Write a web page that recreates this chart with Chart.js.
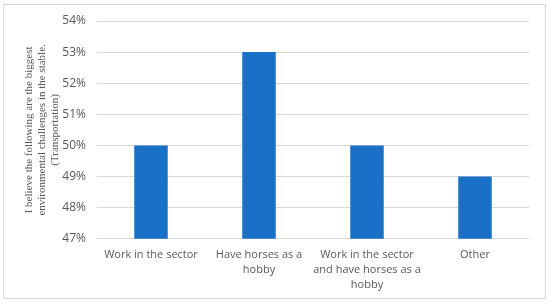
<!DOCTYPE html>
<html lang="en">
<head>
  <meta charset="UTF-8">
  <title>Biggest environmental challenges in the stable</title>
  <script src="https://cdn.jsdelivr.net/npm/chart.js"></script>
  <style>
    html, body { margin: 0; padding: 0; background: #fff; }
    #wrap { width: 550px; height: 306px; }
  </style>
</head>
<body>
  <div id="wrap"><canvas id="myChart" width="550" height="306"></canvas></div>

  <script>
    // categories (split into lines the way they wrap under the bars)
    var groups = [
      ['Work in the sector'],
      ['Have horses as a', 'hobby'],
      ['Work in the sector', 'and have horses as a', 'hobby'],
      ['Other']
    ];
    var shares = [0.50, 0.53, 0.50, 0.49];
    var axisTitle = [
      'I believe the following are the biggest',
      'environmental challenges in the stable.',
      '(Transportation)'
    ];
    var yMin = 0.47, yMax = 0.54, yStep = 0.01;

    var textGrey = '#595959';

    // light grey frame round the whole chart
    var frame = {
      id: 'frame',
      beforeDraw: function(chart) {
        var c = chart.ctx;
        c.save();
        c.strokeStyle = '#d9d9d9';
        c.lineWidth = 1;
        c.strokeRect(3.5, 4.5, 542, 294);
        c.restore();
      }
    };

    var ctx = document.getElementById('myChart').getContext('2d');
    var chart = new Chart(ctx, {
      type: 'bar',
      data: {
        labels: groups,
        datasets: [{
          data: shares,
          backgroundColor: '#1a6fc6',
          borderWidth: 0,
          barPercentage: 0.31,
          categoryPercentage: 1
        }]
      },
      options: {
        responsive: false,
        animation: false,
        layout: { padding: { top: 21, right: 21, bottom: 5, left: 0 } },
        plugins: {
          legend: { display: false },
          tooltip: { enabled: false }
        },
        scales: {
          x: {
            grid: { display: false, drawTicks: false },
            border: { display: false },
            ticks: {
              color: textGrey,
              font: { family: 'Open Sans', size: 11, lineHeight: 1.4 },
              padding: 8,
              maxRotation: 0,
              autoSkip: false
            }
          },
          y: {
            min: yMin,
            max: yMax,
            afterFit: function(scale) { scale.width = 97; },
            grid: { color: '#d9d9d9', drawTicks: false },
            border: { display: false },
            ticks: {
              stepSize: yStep,
              color: textGrey,
              font: { family: 'Open Sans', size: 12 },
              padding: 11,
              callback: function(v) { return Math.round(v * 100) + '%'; }
            },
            title: {
              display: true,
              text: axisTitle,
              color: textGrey,
              font: { family: 'Liberation Serif', size: 11, lineHeight: 1.15 },
              padding: { top: 23, bottom: 0 }
            }
          }
        }
      },
      plugins: [frame]
    });
  </script>
</body>
</html>
